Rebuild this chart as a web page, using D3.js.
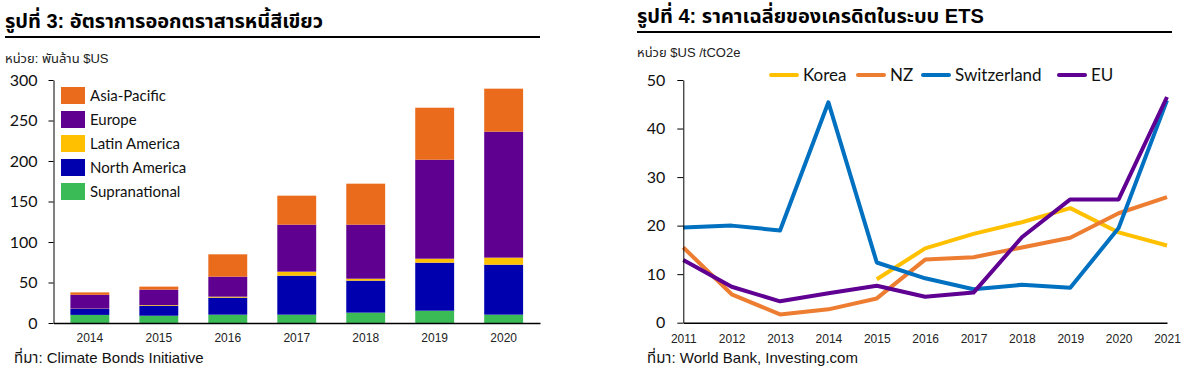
<!DOCTYPE html>
<html>
<head>
<meta charset="utf-8">
<script src="https://cdn.jsdelivr.net/npm/d3@7"></script>
<style>
  body { margin: 0; background: #fff; }
  svg { display: block; }
  .thai { font-family: "Liberation Sans", Arial, Tahoma, "Noto Sans Thai", "Noto Sans", sans-serif; }
  .num { font-family: Lato, Carlito, Calibri, sans-serif; }
  .small { font-family: "Liberation Sans", Arial, sans-serif; }
</style>
</head>
<body>
<svg id="chart" width="1184" height="370"></svg>
<script>
// Figure 3: green bond issuance, billion $US
const years = ["2014", "2015", "2016", "2017", "2018", "2019", "2020"];
const supranational = [10, 9, 10.3, 10.3, 12.8, 15.2, 10.3];
const northAmerica = [7.5, 12.4, 21, 48.1, 39.5, 59.3, 61.7];
const latinAmerica = [0.3, 0.8, 1.2, 5, 2.4, 4.9, 8.7];
const europe = [17, 19, 24.7, 58, 66.7, 122.2, 155.5];
const asiaPacific = [3, 3.7, 27.6, 35.8, 50.6, 64.2, 53.1];
const barTicks = [0, 50, 100, 150, 200, 250, 300];

// Figure 4: average ETS credit price, $US / tCO2e
const etsYears = [2011, 2012, 2013, 2014, 2015, 2016, 2017, 2018, 2019, 2020, 2021];
const korea = [null, null, null, null, 8.95, 15.3, 18.3, 20.7, 23.6, 18.6, 15.9];
const nz = [15.5, 5.85, 1.7, 2.75, 5.0, 13.0, 13.5, 15.5, 17.5, 22.55, 25.85];
const switzerland = [19.6, 20.0, 19.0, 45.4, 12.4, 9.15, 6.9, 7.8, 7.2, 19.5, 45.8];
const eu = [12.9, 7.4, 4.4, 6.05, 7.6, 5.35, 6.2, 17.6, 25.4, 25.4, 46.5];
const lineTicks = [0, 10, 20, 30, 40, 50];

const svg = d3.select("#chart");

// ---------- left chart ----------
const regions = [
  { key: "Supranational", values: supranational, color: "#3bbb55" },
  { key: "North America", values: northAmerica, color: "#0000af" },
  { key: "Latin America", values: latinAmerica, color: "#ffc000" },
  { key: "Europe", values: europe, color: "#5f0090" },
  { key: "Asia-Pacific", values: asiaPacific, color: "#e96b1b" }
];

const rows = years.map((yr, i) => {
  const r = { year: yr };
  regions.forEach(s => r[s.key] = s.values[i]);
  return r;
});

const stacked = d3.stack().keys(regions.map(s => s.key))(rows);

const x1 = d3.scaleBand()
  .domain(years)
  .range([53.5, 540])
  .paddingInner(0.436)
  .paddingOuter(0.245);

const y1 = d3.scaleLinear().domain([0, 300]).range([323, 80]);

svg.append("text")
  .attr("class", "thai")
  .attr("x", 5).attr("y", 28)
  .style("font-size", "20px").style("font-weight", "bold")
  .text("รูปที่ 3: อัตราการออกตราสารหนี้สีเขียว");

svg.append("line")
  .attr("x1", 5).attr("x2", 540).attr("y1", 37).attr("y2", 37)
  .attr("stroke", "#000").attr("stroke-width", 2);

svg.append("text")
  .attr("class", "thai")
  .attr("x", 5).attr("y", 63)
  .style("font-size", "13px").attr("fill", "#222")
  .text("หน่วย: พันล้าน $US");

svg.append("g")
  .selectAll("g")
  .data(stacked)
  .enter().append("g")
  .attr("fill", (d, i) => regions[i].color)
  .selectAll("rect")
  .data(d => d)
  .enter().append("rect")
  .attr("x", d => x1(d.data.year))
  .attr("width", x1.bandwidth())
  .attr("y", d => y1(d[1]))
  .attr("height", d => y1(d[0]) - y1(d[1]));

const yAxis1 = svg.append("g")
  .attr("transform", "translate(53.5,0)")
  .call(d3.axisLeft(y1).tickValues(barTicks).tickSize(5).tickSizeOuter(0).tickPadding(11));
yAxis1.selectAll("text").attr("class", "num").style("font-size", "16px").attr("fill", "#111");
yAxis1.selectAll("line, path").attr("stroke", "#000");

const xAxis1 = svg.append("g")
  .attr("transform", "translate(0,323)")
  .call(d3.axisBottom(x1).tickSize(0).tickPadding(10));
xAxis1.select(".domain").attr("stroke", "#000").attr("stroke-width", 1.5);
xAxis1.selectAll("text").attr("class", "small").style("font-size", "12px").attr("fill", "#222");

const legend1 = svg.append("g")
  .selectAll("g")
  .data(regions.slice().reverse())
  .enter().append("g")
  .attr("transform", (d, i) => `translate(61,${87 + i * 24})`);
legend1.append("rect")
  .attr("width", 24).attr("height", 17)
  .attr("fill", d => d.color);
legend1.append("text")
  .attr("class", "num")
  .attr("x", 29).attr("y", 8.5).attr("dy", "0.35em")
  .style("font-size", "15px").attr("fill", "#111")
  .text(d => d.key);

svg.append("text")
  .attr("class", "thai")
  .attr("x", 14).attr("y", 363)
  .style("font-size", "15px").attr("fill", "#111")
  .text("ที่มา: Climate Bonds Initiative");

// ---------- right chart ----------
const series = [
  { key: "Korea", values: korea, color: "#ffc000" },
  { key: "NZ", values: nz, color: "#ed7d31" },
  { key: "Switzerland", values: switzerland, color: "#0070c0" },
  { key: "EU", values: eu, color: "#5f0092" }
];

const x2 = d3.scaleLinear().domain([2011, 2021]).range([683.3, 1167]);
const y2 = d3.scaleLinear().domain([0, 50]).range([322.7, 80]);

svg.append("text")
  .attr("class", "thai")
  .attr("x", 637).attr("y", 23)
  .style("font-size", "20px").style("font-weight", "bold")
  .text("รูปที่ 4: ราคาเฉลี่ยของเครดิตในระบบ ETS");

svg.append("line")
  .attr("x1", 637).attr("x2", 1172).attr("y1", 32).attr("y2", 32)
  .attr("stroke", "#000").attr("stroke-width", 2);

svg.append("text")
  .attr("class", "thai")
  .attr("x", 637).attr("y", 57)
  .style("font-size", "13px").attr("fill", "#222")
  .text("หน่วย $US /tCO2e");

const line = d3.line()
  .defined(d => d.v != null)
  .x(d => x2(d.year))
  .y(d => y2(d.v));

svg.append("g")
  .selectAll("path")
  .data(series)
  .enter().append("path")
  .attr("d", s => line(etsYears.map((yr, i) => ({ year: yr, v: s.values[i] }))))
  .attr("fill", "none")
  .attr("stroke", s => s.color)
  .attr("stroke-width", 4)
  .attr("stroke-linejoin", "round");

const yAxis2 = svg.append("g")
  .attr("transform", "translate(683.3,0)")
  .call(d3.axisLeft(y2).tickValues(lineTicks).tickSize(6).tickSizeOuter(0).tickPadding(12));
yAxis2.selectAll("text").attr("class", "num").style("font-size", "16px").attr("fill", "#111");
yAxis2.selectAll("line, path").attr("stroke", "#000");

const xAxis2 = svg.append("g")
  .attr("transform", "translate(0,322.7)")
  .call(d3.axisBottom(x2).tickValues(etsYears).tickFormat(d3.format("d")).tickSize(0).tickPadding(12));
xAxis2.select(".domain").attr("stroke", "#000").attr("stroke-width", 1.5);
xAxis2.selectAll("text").attr("class", "small").style("font-size", "12px").attr("fill", "#222");

const legendX = [771, 858, 923, 1059];
const legend2 = svg.append("g")
  .selectAll("g")
  .data(series)
  .enter().append("g")
  .attr("transform", (d, i) => `translate(${legendX[i]},75)`);
legend2.append("line")
  .attr("x1", 0).attr("x2", 26)
  .attr("stroke", d => d.color).attr("stroke-width", 4).attr("stroke-linecap", "round");
legend2.append("text")
  .attr("class", "num")
  .attr("x", 32).attr("dy", "0.35em")
  .style("font-size", "17px").attr("fill", "#111")
  .text(d => d.key);

svg.append("text")
  .attr("class", "thai")
  .attr("x", 647).attr("y", 363)
  .style("font-size", "15px").attr("fill", "#111")
  .text("ที่มา: World Bank, Investing.com");
</script>
</body>
</html>
